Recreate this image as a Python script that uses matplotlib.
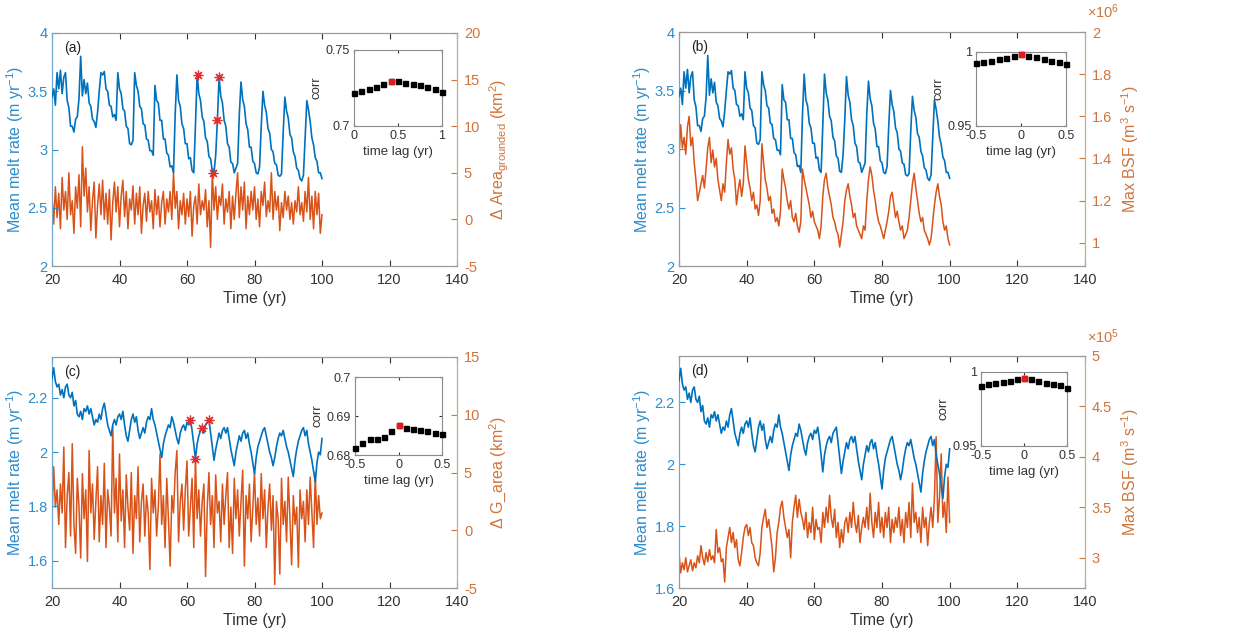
import numpy as np
import matplotlib
matplotlib.use('Agg')
import matplotlib.pyplot as plt

plt.rcParams['font.family'] = ['Liberation Sans', 'DejaVu Sans']
plt.rcParams['mathtext.default'] = 'regular'

# ---------------- data ----------------
time = np.arange(20, 100.25, 0.5)

melt_top = [
    3.45, 3.52, 3.38, 3.66, 3.52, 3.68, 3.48, 3.62, 3.66, 3.42,
    3.36, 3.20, 3.20, 3.15, 3.26, 3.28, 3.44, 3.80, 3.46, 3.60,
    3.48, 3.57, 3.40, 3.37, 3.26, 3.24, 3.19, 3.32, 3.50, 3.66,
    3.64, 3.67, 3.52, 3.50, 3.38, 3.37, 3.28, 3.30, 3.25, 3.66,
    3.52, 3.48, 3.35, 3.33, 3.20, 3.18, 3.05, 3.04, 3.08, 3.66,
    3.55, 3.50, 3.37, 3.35, 3.22, 3.21, 3.09, 3.08, 2.99, 2.99,
    2.95, 3.55, 3.42, 3.40, 3.25, 3.25, 3.09, 3.09, 2.97, 2.95,
    2.85, 2.86, 2.80, 3.30, 3.64, 3.42, 3.37, 3.22, 3.18, 3.05,
    3.05, 2.92, 2.93, 2.82, 2.80, 3.20, 3.64, 3.48, 3.42, 3.28,
    3.24, 3.10, 3.07, 2.94, 2.92, 2.81, 2.80, 2.95, 3.25, 3.62,
    3.46, 3.40, 3.25, 3.20, 3.05, 3.02, 2.89, 2.88, 2.80, 2.84,
    2.88, 3.30, 3.58, 3.43, 3.37, 3.22, 3.17, 3.02, 3.02, 2.90,
    2.88, 2.80, 2.79, 2.85, 3.20, 3.50, 3.38, 3.32, 3.18, 3.14,
    3.00, 2.98, 2.88, 2.87, 2.78, 2.77, 2.79, 3.15, 3.45, 3.33,
    3.27, 3.13, 3.10, 2.98, 2.94, 2.84, 2.82, 2.75, 2.73, 2.78,
    3.10, 3.42, 3.34, 3.24, 3.10, 3.04, 2.93, 2.90, 2.80, 2.80,
    2.75]

area_grounded = [
    2.5, -0.5, 3.5, 0.2, 2.8, -1.0, 4.5, 1.0, 3.0, 0.0,
    5.0, 0.5, 2.0, -1.5, 3.5, 1.2, 4.8, -0.8, 7.8, 2.5,
    5.5, 0.8, 3.5, -1.2, 2.0, 4.0, -2.0, 1.5, 3.8, 0.5,
    4.2, 0.0, 2.8, -0.5, 3.2, -2.2, 1.8, 4.0, 0.8, 3.5,
    -0.8, 2.5, 4.2, 0.3, 3.0, -1.0, 2.2, 1.0, 3.6, -0.5,
    2.8, 0.5, 3.5, -1.5, 1.5, 2.8, -0.2, 3.0, 0.8, 2.0,
    -1.0, 3.2, 0.5, 2.5, -0.8, 1.8, 3.0, -0.5, 2.2, 0.8,
    3.0, 0.0, 5.0, 1.2, 3.0, -1.0, 2.0, 0.5, 2.8, -0.5,
    2.2, 0.3, 3.0, -1.8, 1.5, 2.5, -0.5, 3.8, 0.5, 2.0,
    1.0, 3.2, -0.8, 2.0, -3.0, 5.0, 1.0, 3.5, 0.0, 2.5,
    1.5, 3.8, -0.5, 2.2, 0.8, 3.0, -1.0, 2.5, 0.0, 2.8,
    5.0, 0.2, 3.5, 1.0, 4.0, -1.0, 2.5, 0.5, 3.0, 1.0,
    3.5, 0.0, 2.2, -0.8, 3.0, 1.5, 4.0, 0.3, 2.0, 0.8,
    5.0, 0.0, 3.0, 1.0, 2.5, -1.2, 1.8, 0.2, 3.0, 1.0,
    2.5, 0.0, 1.8, -0.5, 2.0, 0.8, 3.5, 0.5, 1.8, -0.2,
    3.0, 0.8, 4.5, 0.0, 2.5, -1.0, 3.0, 0.5, 2.8, -1.5,
    0.5]

max_bsf_top = [  # x 1e6
    1.40, 1.56, 1.45, 1.50, 1.42, 1.55, 1.60, 1.46, 1.50, 1.38,
    1.30, 1.20, 1.24, 1.28, 1.32, 1.26, 1.35, 1.45, 1.50, 1.38,
    1.44, 1.36, 1.40, 1.30, 1.25, 1.20, 1.28, 1.24, 1.38, 1.49,
    1.42, 1.45, 1.35, 1.30, 1.18, 1.25, 1.30, 1.22, 1.28, 1.46,
    1.38, 1.30, 1.26, 1.20, 1.24, 1.16, 1.18, 1.13, 1.20, 1.47,
    1.38, 1.30, 1.26, 1.20, 1.22, 1.14, 1.16, 1.10, 1.12, 1.08,
    1.15, 1.35, 1.30, 1.26, 1.20, 1.16, 1.20, 1.12, 1.10, 1.14,
    1.08, 1.05, 1.10, 1.35, 1.30, 1.26, 1.22, 1.18, 1.12, 1.15,
    1.10, 1.08, 1.06, 1.02, 1.08, 1.22, 1.30, 1.33, 1.26, 1.22,
    1.18, 1.12, 1.10, 1.06, 1.04, 0.98, 1.04, 1.10, 1.20, 1.25,
    1.28, 1.22, 1.18, 1.12, 1.14, 1.08, 1.06, 1.04, 1.02, 1.08,
    1.06, 1.20, 1.30, 1.36, 1.32, 1.25, 1.20, 1.14, 1.10, 1.08,
    1.05, 1.02, 1.06, 1.10, 1.15, 1.22, 1.24, 1.18, 1.12, 1.15,
    1.10, 1.06, 1.08, 1.02, 1.04, 1.06, 1.12, 1.20, 1.28, 1.33,
    1.26, 1.20, 1.14, 1.10, 1.12, 1.06, 1.04, 1.02, 0.99, 1.02,
    1.10, 1.18, 1.24, 1.28, 1.22, 1.18, 1.10, 1.06, 1.08, 1.02,
    0.99]

melt_bottom = [
    2.27, 2.31, 2.26, 2.24, 2.25, 2.21, 2.23, 2.20, 2.24, 2.25,
    2.21, 2.20, 2.22, 2.17, 2.19, 2.14, 2.13, 2.15, 2.12, 2.16,
    2.15, 2.17, 2.14, 2.16, 2.13, 2.10, 2.12, 2.11, 2.14, 2.12,
    2.16, 2.18, 2.14, 2.10, 2.08, 2.06, 2.10, 2.12, 2.10, 2.13,
    2.14, 2.12, 2.15, 2.10, 2.06, 2.04, 2.08, 2.12, 2.14, 2.11,
    2.13, 2.08, 2.05, 2.07, 2.09, 2.07, 2.11, 2.13, 2.12, 2.16,
    2.12, 2.10, 2.07, 2.04, 2.01, 1.98, 2.03, 2.06, 2.08, 2.10,
    2.09, 2.13, 2.11, 2.08, 2.05, 2.03, 2.07, 2.09, 2.10, 2.08,
    2.11, 2.10, 2.12, 2.08, 2.03, 1.975, 2.03, 2.06, 2.08, 2.09,
    2.07, 2.10, 2.11, 2.12, 2.07, 2.02, 1.97, 2.01, 2.04, 2.07,
    2.05, 2.08, 2.09, 2.07, 2.09, 2.05, 2.01, 1.98, 1.95, 2.00,
    2.03, 2.06, 2.04, 2.07, 2.08, 2.05, 2.07, 2.03, 2.00, 1.96,
    1.92, 1.98, 2.02, 2.04, 2.06, 2.08, 2.09, 2.06, 2.03, 2.00,
    1.98, 1.95, 1.98, 2.02, 2.05, 2.07, 2.06, 2.08, 2.05, 2.02,
    2.00, 1.97, 1.94, 1.91, 1.97, 2.01, 2.04, 2.06, 2.08, 2.09,
    2.06, 2.08, 2.03, 2.00, 1.97, 1.93, 1.89, 1.96, 2.00, 1.99,
    2.05]

g_area = [
    1.0, 5.5, 2.0, 3.5, 0.5, 4.0, 1.5, 7.2, -1.5, 3.0,
    5.0, -0.5, 7.5, 0.5, -2.0, 4.5, 2.0, -2.4, 4.9, 1.0,
    3.5, -2.7, 6.9, 1.5, 4.0, -0.8, 2.5, 5.5, -1.0, 3.0,
    0.5, 5.8, -1.5, 3.5, 2.0, -0.5, 9.0, 1.5, 4.5, -1.0,
    6.6, 0.8, 3.5, -1.5, 4.8, 2.0, 0.0, 5.0, -2.0, 3.0,
    1.0, 5.5, -1.0, 2.5, 4.0, -0.5, 3.0, 1.5, -3.4, 4.5,
    1.5, 3.5, -0.5, 2.0, 6.6, 0.5, 3.0, -1.5, 4.5, 1.0,
    -3.1, 3.0, 1.5, 5.0, 6.9, -1.0, 2.5, 4.0, 0.0, 3.5,
    6.0, -0.5, 2.0, 4.5, -1.5, 6.2, 1.0, 3.5, -0.5, 2.5,
    4.0, -4.0, 2.0, 5.0, 0.5, 3.0, -1.5, 4.8, 1.5, 2.5,
    -1.0, 4.0, 0.5, 3.0, 5.0, -1.5, 2.0, -2.0, 4.5, 1.0,
    3.5, -0.5, 2.5, 5.2, -3.1, 3.0, 1.0, 4.0, -1.0, 2.0,
    5.0, 0.5, 2.8, -0.5, 4.9, 1.0, 3.5, -1.5, 2.0, 4.0,
    0.0, 3.0, -4.7, 2.5, 1.0, -3.8, 4.5, 0.5, 2.5, -1.0,
    4.6, 1.0, -3.0, 3.0, 0.5, 2.0, -3.2, 3.5, 1.0, 2.5,
    -1.0, 3.5, 0.5, 4.6, 1.5, -1.5, 5.0, 0.5, 3.0, 1.0,
    1.5]

max_bsf_bottom = [  # x 1e5
    3.05, 2.85, 2.95, 2.88, 3.00, 2.86, 2.92, 2.98, 2.87, 2.95,
    2.90, 3.02, 2.95, 3.12, 3.00, 2.93, 3.05, 2.96, 3.08, 2.98,
    3.02, 2.95, 3.28, 3.05, 3.10, 2.96, 2.99, 2.76, 3.10, 3.20,
    3.30, 3.15, 3.25, 3.10, 3.18, 2.98, 2.92, 3.05, 3.20, 3.30,
    3.33, 3.22, 3.30, 3.15, 3.12, 3.00, 2.95, 2.92, 3.05, 3.30,
    3.40, 3.48, 3.30, 3.38, 3.25, 3.10, 2.86, 3.00, 3.25, 3.35,
    3.50, 3.56, 3.40, 3.30, 3.20, 3.28, 3.00, 3.35, 3.50, 3.62,
    3.40, 3.58, 3.45, 3.38, 3.28, 3.45, 3.20, 3.35, 3.25, 3.50,
    3.18, 3.38, 3.28, 3.30, 3.15, 3.45, 3.30, 3.50, 3.35, 3.62,
    3.40, 3.30, 3.48, 3.20, 3.35, 3.10, 3.28, 3.15, 3.35, 3.40,
    3.25, 3.45, 3.30, 3.55, 3.35, 3.25, 3.42, 3.15, 3.30, 3.40,
    3.30, 3.50, 3.28, 3.64, 3.35, 3.20, 3.45, 3.30, 3.55, 3.25,
    3.40, 3.20, 3.45, 3.30, 3.50, 3.15, 3.38, 3.25, 3.40, 3.30,
    3.50, 3.22, 3.38, 3.15, 3.45, 3.30, 3.55, 3.20, 3.74, 3.35,
    3.45, 3.25, 3.40, 3.15, 3.50, 3.30, 3.40, 3.12, 3.35, 3.50,
    3.30, 3.60, 4.20, 3.35, 3.60, 4.03, 3.40, 3.55, 3.25, 3.80,
    3.35]

# red asterisks marked on the melt-rate curves
star_a_time = [63.2, 67.8, 69.0, 69.5]
star_a_melt = [3.64, 2.80, 3.25, 3.62]
star_c_time = [61.0, 62.5, 64.5, 66.5]
star_c_melt = [2.12, 1.975, 2.09, 2.12]

# lag correlation insets
lag_pos = [0, 0.083, 0.167, 0.25, 0.333, 0.417, 0.5, 0.583, 0.667, 0.75, 0.833, 0.917, 1.0]
lag_sym = [-0.5, -0.417, -0.333, -0.25, -0.167, -0.083, 0, 0.083, 0.167, 0.25, 0.333, 0.417, 0.5]
corr_a = [0.7219, 0.7230, 0.7245, 0.7259, 0.7278, 0.7298, 0.7294, 0.7285, 0.7274, 0.7272, 0.7257, 0.7243, 0.7224]
corr_b = [0.9924, 0.9932, 0.9941, 0.9951, 0.9961, 0.9975, 0.9986, 0.9975, 0.9964, 0.9953, 0.9941, 0.9930, 0.9917]
corr_c = [0.6817, 0.6830, 0.6841, 0.6842, 0.6845, 0.6862, 0.6877, 0.6870, 0.6866, 0.6865, 0.6862, 0.6856, 0.6854]
corr_d = [0.9907, 0.9917, 0.9924, 0.9932, 0.9941, 0.9951, 0.9961, 0.9951, 0.9939, 0.9928, 0.9919, 0.9910, 0.9892]

# ---------------- style ----------------
BLUE = '#0072BD'
ORANGE = '#D95319'
BLUE_TXT = '#2d8ccb'
ORANGE_TXT = '#d0743c'
GRAY = '#9a9a9a'
DARK = '#333333'

fig = plt.figure(figsize=(12.41, 6.39), dpi=100)


def px(l, t, r, b):
    W, H = 1241, 639
    return [l / W, 1 - b / H, (r - l) / W, (b - t) / H]


def main_panel(rect, letter, melt, right, left_lim, left_ticks, right_lim, right_ticks,
               right_label, offset=None, stars=None):
    ax = fig.add_axes(rect)
    ax2 = ax.twinx()
    ax.plot(time, melt, color=BLUE, lw=1.2, zorder=3)
    ax2.plot(time, right, color=ORANGE, lw=1.1)
    ax.set_zorder(ax2.get_zorder() + 1)
    ax.patch.set_visible(False)
    if stars is not None:
        ax.plot(stars[0], stars[1], linestyle='none', marker=(8, 2, 0), ms=7,
                mec='#e03030', mew=0.9, zorder=5)
    ax.set_xlim(20, 140)
    ax.set_xticks([20, 40, 60, 80, 100, 120, 140])
    ax.set_ylim(*left_lim)
    ax.set_yticks(left_ticks)
    ax.set_yticklabels([('%g' % v) for v in left_ticks])
    ax2.set_ylim(*right_lim)
    ax2.set_yticks(right_ticks)
    ax2.set_yticklabels([('%g' % v) for v in right_ticks])
    ax.tick_params(axis='x', direction='in', top=True, length=4, labelsize=10.5,
                   colors=DARK, pad=5)
    ax.tick_params(axis='y', direction='in', length=4, labelsize=10.5,
                   colors=BLUE_TXT, pad=3)
    ax2.tick_params(axis='y', direction='in', length=4, labelsize=10.5,
                    colors=ORANGE_TXT, pad=5)
    for a in (ax, ax2):
        a.spines['top'].set_color(GRAY)
        a.spines['bottom'].set_color(GRAY)
        a.spines['left'].set_color('#6fa8cf')
        a.spines['right'].set_color('#cfa584')
    ax.set_xlabel('Time (yr)', fontsize=11.5, color=DARK, labelpad=3)
    ax.set_ylabel('Mean melt rate (m yr$^{-1}$)', fontsize=11.5, color=BLUE_TXT, labelpad=1)
    ax2.set_ylabel(right_label, fontsize=11.5, color=ORANGE_TXT, labelpad=5)
    ax.text(0.03, 0.965, letter, transform=ax.transAxes, fontsize=10,
            color='#222222', va='top', ha='left')
    if offset is not None:
        ax.text(1.005, 1.045, offset, transform=ax.transAxes, fontsize=10.5,
                color=ORANGE_TXT, ha='left', va='bottom')
    return ax


def inset(rect, lags, corr, xlim, xticks, ylim, yticks, peak):
    ia = fig.add_axes(rect)
    ia.plot(lags, corr, linestyle='none', marker='s', ms=3.6, color='black',
            clip_on=False, zorder=3)
    ia.plot([lags[peak]], [corr[peak]], linestyle='none', marker='s', ms=3.6,
            color='#e21b1b', clip_on=False, zorder=4)
    ia.set_xlim(*xlim)
    ia.set_ylim(*ylim)
    ia.set_xticks(xticks)
    ia.set_xticklabels([('%g' % v) for v in xticks])
    ia.set_yticks(yticks)
    ia.set_yticklabels([('%g' % v) for v in yticks])
    ia.tick_params(direction='in', length=2.5, labelsize=9, colors=DARK,
                   top=True, right=True, pad=3)
    for s in ia.spines.values():
        s.set_color('#8a8a8a')
    ia.set_xlabel('time lag (yr)', fontsize=9.5, color=DARK, labelpad=3)
    ia.set_ylabel('corr', fontsize=9.5, color=DARK, labelpad=2)
    return ia


main_panel(px(52, 33, 457, 266), '(a)', melt_top, area_grounded,
           (2, 4), [2, 2.5, 3, 3.5, 4], (-5, 20), [-5, 0, 5, 10, 15, 20],
           '$\\Delta$ Area$_{grounded}$ (km$^2$)',
           stars=(star_a_time, star_a_melt))
main_panel(px(679, 32, 1085, 266), '(b)', melt_top, max_bsf_top,
           (2, 4), [2, 2.5, 3, 3.5, 4], (0.89, 2.0), [1, 1.2, 1.4, 1.6, 1.8, 2],
           'Max BSF (m$^3$ s$^{-1}$)', offset='$\\times$10$^6$')
main_panel(px(52, 357, 457, 588), '(c)', melt_bottom, g_area,
           (1.5, 2.35), [1.6, 1.8, 2, 2.2], (-5, 15), [-5, 0, 5, 10, 15],
           '$\\Delta$ G_area (km$^2$)',
           stars=(star_c_time, star_c_melt))
main_panel(px(679, 356, 1085, 588), '(d)', melt_bottom, max_bsf_bottom,
           (1.6, 2.35), [1.6, 1.8, 2, 2.2], (2.7, 5.0), [3, 3.5, 4, 4.5, 5],
           'Max BSF (m$^3$ s$^{-1}$)', offset='$\\times$10$^5$')

inset(px(354, 50, 442, 126), lag_pos, corr_a, (0, 1), [0, 0.5, 1],
      (0.7, 0.75), [0.7, 0.75], 5)
inset(px(976, 52, 1066, 126), lag_sym, corr_b, (-0.5, 0.5), [-0.5, 0, 0.5],
      (0.95, 1.0), [0.95, 1], 6)
inset(px(355, 377, 442, 455), lag_sym, corr_c, (-0.5, 0.5), [-0.5, 0, 0.5],
      (0.68, 0.70), [0.68, 0.69, 0.7], 6)
inset(px(981, 372, 1067, 446), lag_sym, corr_d, (-0.5, 0.5), [-0.5, 0, 0.5],
      (0.95, 1.0), [0.95, 1], 6)

fig.savefig('out.png', dpi=100)
